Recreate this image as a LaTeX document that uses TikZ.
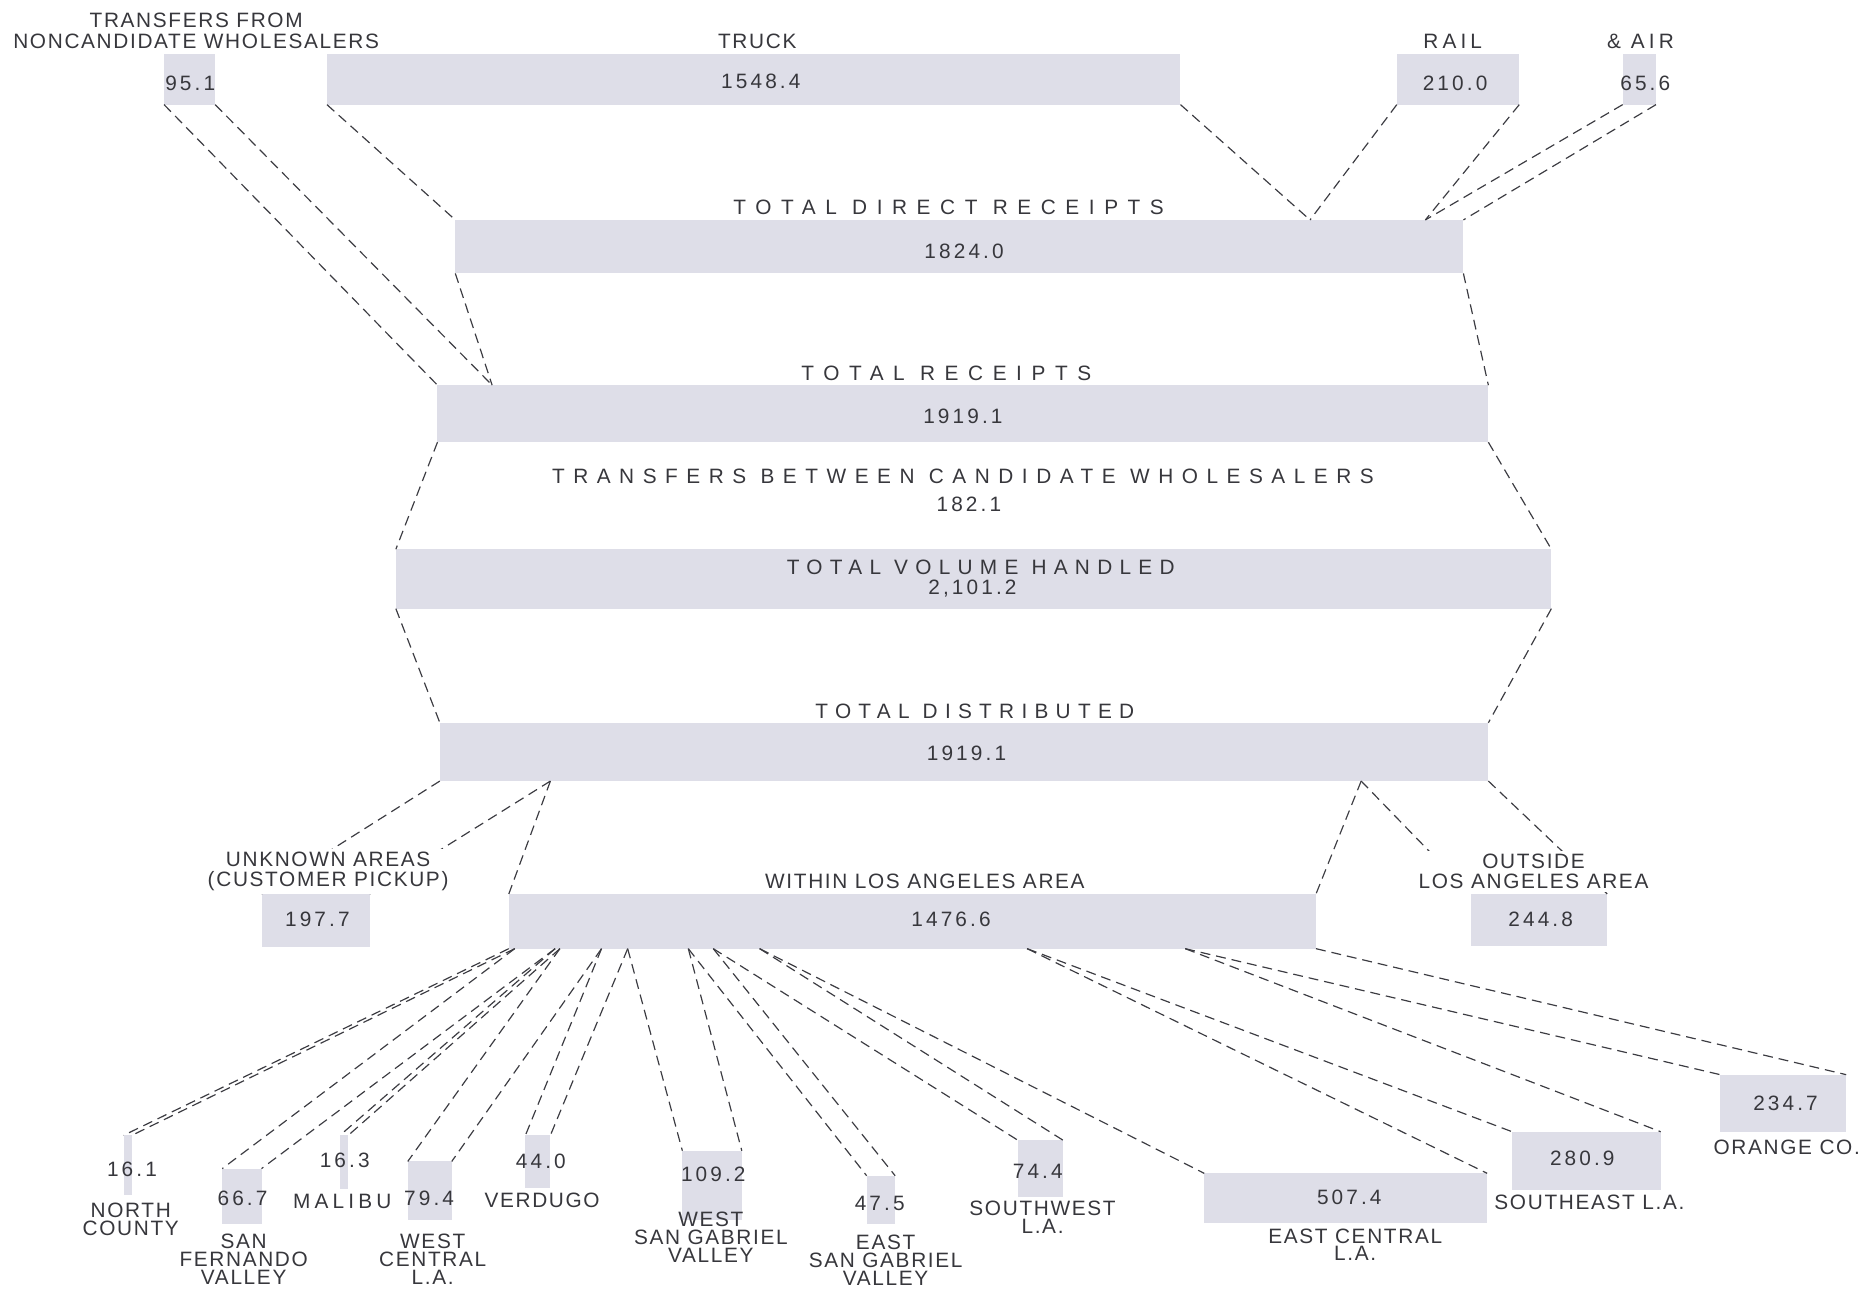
\documentclass[tikz,border=0pt]{standalone}
\usepackage{fontspec}
\setmainfont{Liberation Sans}[LetterSpace=8]
\newfontfamily\numfam{Liberation Sans}[LetterSpace=15]
\newfontfamily\widefam{Liberation Sans}[LetterSpace=20]
\newfontfamily\ttlAfam{Liberation Sans}[LetterSpace=46]
\newfontfamily\ttlCfam{Liberation Sans}[LetterSpace=41]
\newfontfamily\ttlBfam{Liberation Sans}[LetterSpace=35]
\definecolor{ink}{RGB}{55,55,60}
\definecolor{dashcol}{RGB}{60,60,66}
\definecolor{barfill}{RGB}{222,222,232}
\newcommand{\mkbar}[5]{\node[barbox,minimum width={(#4-#2)*0.6pt},minimum height={(#5-#3)*0.6pt}] (#1) at ({(#2+#4)/2},{(#3+#5)/2}) {};}
\begin{document}
\begin{tikzpicture}[x=0.6pt,y=-0.6pt,
  barbox/.style={fill=barfill,draw=none,inner sep=0pt,outer sep=0pt},
  conn/.style={draw=dashcol,line width=0.6pt,dash pattern=on 5pt off 3pt},
  lbl/.style={font=\fontsize{10.5}{9}\selectfont,text=ink,inner sep=0.5pt,align=center},
  lblw/.style={lbl,font=\fontsize{10.5}{10.2}\selectfont,fill=white,inner sep=1.5pt},
  num/.style={font=\numfam\fontsize{10.5}{9}\selectfont,text=ink,inner sep=0.5pt},
  wide/.style={lbl,font=\widefam\fontsize{10.5}{9}\selectfont},
  ttlA/.style={lbl,font=\ttlAfam\fontsize{10.5}{9}\selectfont},
  ttlC/.style={lbl,font=\ttlCfam\fontsize{10.5}{9}\selectfont},
  ttlB/.style={lbl,font=\ttlBfam\fontsize{10.5}{9}\selectfont}]
\useasboundingbox (0,0) rectangle (1568,1084);
% ---------- bars and boxes ----------
\mkbar{b951}{138}{45}{181}{88}
\mkbar{truck}{275}{45}{993}{88}
\mkbar{rail}{1175}{45}{1278}{88}
\mkbar{air}{1365}{45}{1393}{88}
\mkbar{tdr}{383}{185}{1231}{230}
\mkbar{tr}{368}{324}{1252}{372}
\mkbar{tvh}{333}{462}{1305}{512}
\mkbar{td}{370}{608}{1252}{657}
\mkbar{unk}{220}{752}{311}{797}
\mkbar{wla}{428}{752}{1107}{798}
\mkbar{out}{1237}{752}{1352}{796}
\mkbar{nc}{104}{955}{111}{1005}
\mkbar{sf}{187}{983}{220}{1030}
\mkbar{mal}{286}{955}{293}{1000}
\mkbar{wc}{343}{977}{380}{1026}
\mkbar{ver}{442}{955}{463}{999}
\mkbar{wsg}{574}{968}{624}{1026}
\mkbar{esg}{729}{989}{753}{1030}
\mkbar{sw}{856}{959}{894}{1007}
\mkbar{ec}{1013}{987}{1251}{1029}
\mkbar{se}{1272}{952}{1397}{1001}
\mkbar{orng}{1447}{904}{1553}{952}
% ---------- split points ----------
\coordinate (trA) at (414,324);
\coordinate (tdrA) at (1102,185);
\coordinate (tdrB) at (1199,185);
\coordinate (tdA) at (463,657);
\coordinate (tdB) at (1145,657);
\coordinate (o1) at (433,798);
\coordinate (o2) at (467,798);
\coordinate (o3) at (471,798);
\coordinate (o4) at (506,798);
\coordinate (o5) at (528,798);
\coordinate (o6) at (579,798);
\coordinate (o7) at (600,798);
\coordinate (o8) at (639,798);
\coordinate (o9) at (864,798);
\coordinate (o10) at (997,798);
% ---------- connectors ----------
\draw[conn] (b951.south west) -- (tr.north west);
\draw[conn] (b951.south east) -- (trA);
\draw[conn] (truck.south west) -- (tdr.north west);
\draw[conn] (truck.south east) -- (tdrA);
\draw[conn] (rail.south west) -- (tdrA);
\draw[conn] (rail.south east) -- (tdrB);
\draw[conn] (air.south west) -- (tdrB);
\draw[conn] (air.south east) -- (tdr.north east);
\draw[conn] (tdr.south west) -- (trA);
\draw[conn] (tdr.south east) -- (tr.north east);
\draw[conn] (tr.south west) -- (tvh.north west);
\draw[conn] (tr.south east) -- (tvh.north east);
\draw[conn] (tvh.south west) -- (td.north west);
\draw[conn] (tvh.south east) -- (td.north east);
\draw[conn] (td.south west) -- (unk.north west);
\draw[conn] (tdA) -- (unk.north east);
\draw[conn] (tdA) -- (wla.north west);
\draw[conn] (tdB) -- (wla.north east);
\draw[conn] (tdB) -- (out.north west);
\draw[conn] (td.south east) -- (out.north east);
\draw[conn] (wla.south west) -- (nc.north west);
\draw[conn] (o1) -- (nc.north east);
\draw[conn] (o1) -- (sf.north west);
\draw[conn] (o2) -- (sf.north east);
\draw[conn] (o2) -- (mal.north west);
\draw[conn] (o3) -- (mal.north east);
\draw[conn] (o3) -- (wc.north west);
\draw[conn] (o4) -- (wc.north east);
\draw[conn] (o4) -- (ver.north west);
\draw[conn] (o5) -- (ver.north east);
\draw[conn] (o5) -- (wsg.north west);
\draw[conn] (o6) -- (wsg.north east);
\draw[conn] (o6) -- (esg.north west);
\draw[conn] (o7) -- (esg.north east);
\draw[conn] (o7) -- (sw.north west);
\draw[conn] (o8) -- (sw.north east);
\draw[conn] (o8) -- (ec.north west);
\draw[conn] (o9) -- (ec.north east);
\draw[conn] (o9) -- (se.north west);
\draw[conn] (o10) -- (se.north east);
\draw[conn] (o10) -- (orng.north west);
\draw[conn] (wla.south east) -- (orng.north east);
% ---------- top texts ----------
\node[lbl,font=\fontsize{10.5}{10.2}\selectfont] (t-tf) at (165,26) {TRANSFERS FROM\\NONCANDIDATE WHOLESALERS};
\node[lbl] (t-truck) at (637,35) {TRUCK};
\node[wide] (t-rail) at (1222,35) {RAIL};
\node[wide] (t-air) at (1380,35) {\& AIR};
\node[num] (v-951) at (160,70) {95.1};
\node[num] (v-truck) at (640,68) {1548.4};
\node[num] (v-rail) at (1224,70) {210.0};
\node[num] (v-air) at (1384,70) {65.6};
\node[ttlA] (t-tdr) at (798,174) {TOTAL DIRECT RECEIPTS};
\node[num] (v-tdr) at (811,211) {1824.0};
\node[ttlA] (t-tr) at (796,314) {TOTAL RECEIPTS};
\node[num] (v-tr) at (810,350) {1919.1};
\node[ttlC] (t-tbcw) at (810,401) {TRANSFERS BETWEEN CANDIDATE WHOLESALERS};
\node[num] (v-tbcw) at (815,424) {182.1};
\node[ttlB] (t-tvh) at (825,477) {TOTAL VOLUME HANDLED};
\node[num] (v-tvh) at (818,495) {2,101.2};
\node[ttlB] (t-td) at (820,598) {TOTAL DISTRIBUTED};
\node[num] (v-td) at (813,634) {1919.1};
% ---------- middle texts ----------
\node[lblw] (t-unk) at (276,733) {UNKNOWN AREAS\\(CUSTOMER PICKUP)};
\node[num] (v-unk) at (267,773) {197.7};
\node[lbl] (t-wla) at (778,741) {WITHIN LOS ANGELES AREA};
\node[num] (v-wla) at (800,773) {1476.6};
\node[lblw] (t-out) at (1290,733) {OUTSIDE\\LOS ANGELES AREA};
\node[num] (v-out) at (1296,773) {244.8};
% ---------- bottom texts ----------
\node[num] (v-nc) at (111,984) {16.1};
\node[lbl] (t-nc) at (110,1026) {NORTH\\COUNTY};
\node[num] (v-sf) at (204,1008) {66.7};
\node[lbl] (t-sf) at (205,1059) {SAN\\FERNANDO\\VALLEY};
\node[num] (v-mal) at (290,976) {16.3};
\node[wide] (t-mal) at (288,1011) {MALIBU};
\node[num] (v-wc) at (361,1008) {79.4};
\node[lbl] (t-wc) at (364,1059) {WEST\\CENTRAL\\L.A.};
\node[num] (v-ver) at (455,977) {44.0};
\node[lbl] (t-ver) at (456,1010) {VERDUGO};
\node[num] (v-wsg) at (600,988) {109.2};
\node[lbl] (t-wsg) at (598,1041) {WEST\\SAN GABRIEL\\VALLEY};
\node[num] (v-esg) at (740,1012) {47.5};
\node[lbl] (t-esg) at (745,1060) {EAST\\SAN GABRIEL\\VALLEY};
\node[num] (v-sw) at (873,985) {74.4};
\node[lbl] (t-sw) at (877,1024) {SOUTHWEST\\L.A.};
\node[num] (v-ec) at (1135,1007) {507.4};
\node[lbl] (t-ec) at (1140,1047) {EAST CENTRAL\\L.A.};
\node[num] (v-se) at (1331,974) {280.9};
\node[lbl] (t-se) at (1337,1011) {SOUTHEAST L.A.};
\node[num] (v-orng) at (1502,928) {234.7};
\node[lbl] (t-orng) at (1503,965) {ORANGE CO.};
\end{tikzpicture}
\end{document}
